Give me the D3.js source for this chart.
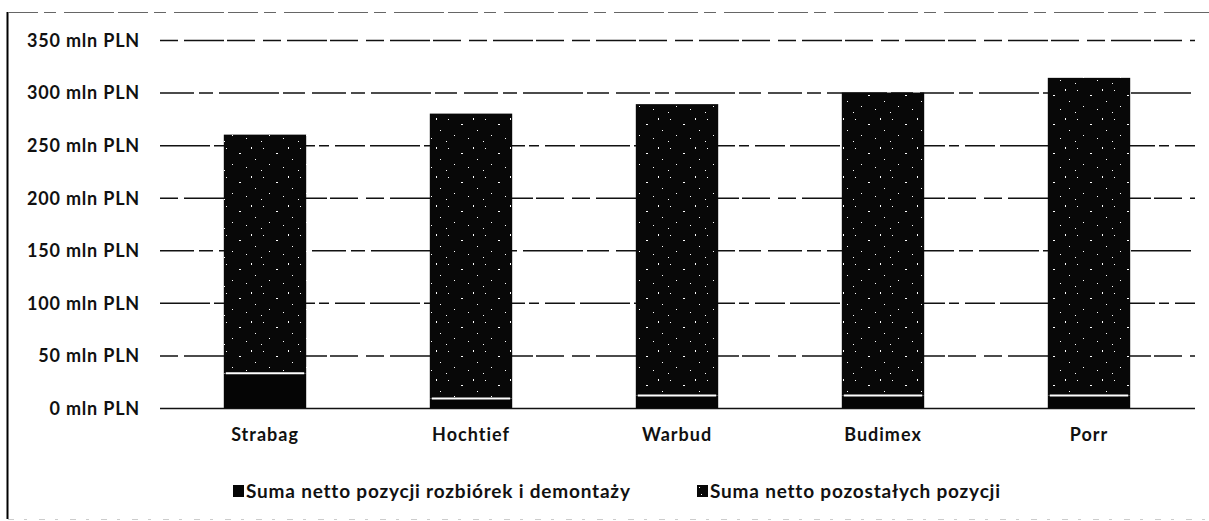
<!DOCTYPE html>
<html>
<head>
<meta charset="utf-8">
<script src="https://cdn.jsdelivr.net/npm/d3@7/dist/d3.min.js"></script>
<style>
  html, body { margin: 0; padding: 0; background: #fff; }
  svg { display: block; }
  text { font-family: Lato, "Open Sans", sans-serif; fill: #111; }
</style>
</head>
<body>
<svg id="chart" width="1209" height="521"></svg>
<script>
// ---- data ----
const categories = ["Strabag", "Hochtief", "Warbud", "Budimex", "Porr"];
const demolition = [33, 9, 12, 12, 12];        // Suma netto pozycji rozbiórek i demontaży
const other = [227, 271, 277, 288, 302];        // Suma netto pozostałych pozycji
const seriesNames = ["Suma netto pozycji rozbiórek i demontaży", "Suma netto pozostałych pozycji"];
const yTicks = [0, 50, 100, 150, 200, 250, 300, 350];
const yTickLabels = ["0 mln PLN", "50 mln PLN", "100 mln PLN", "150 mln PLN", "200 mln PLN", "250 mln PLN", "300 mln PLN", "350 mln PLN"];

const rows = categories.map((c, i) => ({ cat: c, demolition: demolition[i], other: other[i] }));
const stack = d3.stack().keys(["demolition", "other"])(rows);

const svg = d3.select("#chart");

// sparse speckle pattern for the "other" series (scan-like texture)
const defs = svg.append("defs");
const pat = defs.append("pattern").attr("id", "speckle").attr("patternUnits", "userSpaceOnUse")
  .attr("width", 37).attr("height", 29);
pat.append("rect").attr("width", 37).attr("height", 29).attr("fill", "#080808");
[[4,3,1,1],[17,8,2,1],[29,2,1,2],[10,19,1,1],[24,22,1,1],[33,14,1,1],[2,25,1,1]].forEach(s => {
  pat.append("rect").attr("x", s[0]).attr("y", s[1]).attr("width", s[2]).attr("height", s[3]).attr("fill", "#fff");
});

const x = d3.scaleBand().domain(categories).range([162, 1192]).paddingInner(0.6).paddingOuter(0.3);
const y = d3.scaleLinear().domain([0, 350]).range([408, 40]);

// frame
svg.append("line").attr("x1", 7.5).attr("x2", 7.5).attr("y1", 12).attr("y2", 519).attr("stroke", "#000").attr("stroke-width", 2);
svg.append("line").attr("x1", 8).attr("x2", 1209).attr("y1", 12.5).attr("y2", 12.5)
  .attr("stroke", "#666").attr("stroke-width", 1.2).attr("stroke-dasharray", "30,6,12,8,50,4");
svg.append("line").attr("x1", 8).attr("x2", 1209).attr("y1", 519.5).attr("y2", 519.5)
  .attr("stroke", "#ccc").attr("stroke-width", 1).attr("stroke-dasharray", "6,10,3,12");

// y axis (gridlines + labels)
const yAxis = d3.axisLeft(y).tickValues(yTicks)
  .tickSize(-(1195 - 160))
  .tickFormat((d, i) => yTickLabels[i]);
const ga = svg.append("g").attr("transform", "translate(160,0)").call(yAxis);
ga.select(".domain").remove();
ga.selectAll(".tick line")
  .attr("stroke", "#111").attr("stroke-width", 1.5)
  .attr("stroke-dasharray", (d, i) => i === 0 ? null : ["34,5,14,6,60,4,22,7", "18,6,40,3,28,8", "50,4,10,6,30,5"][i % 3]);
ga.selectAll(".tick text")
  .attr("x", -20).attr("dy", "0.35em")
  .style("font-size", "18px").style("font-weight", "700").style("letter-spacing", "0.8px")
  .style("font-family", "Lato, sans-serif").attr("fill", "#111");

// bars
const fills = ["#050505", "url(#speckle)"];
svg.append("g").selectAll("g").data(stack).join("g")
  .attr("fill", (d, i) => fills[i])
  .selectAll("rect").data(d => d).join("rect")
  .attr("x", d => x(d.data.cat))
  .attr("width", x.bandwidth())
  .attr("y", d => y(d[1]))
  .attr("height", d => y(d[0]) - y(d[1]));

// white separator between segments
svg.append("g").selectAll("line").data(stack[0]).join("line")
  .attr("x1", d => x(d.data.cat) + 2).attr("x2", d => x(d.data.cat) + x.bandwidth() - 2)
  .attr("y1", d => y(d[1])).attr("y2", d => y(d[1]))
  .attr("stroke", "#fff").attr("stroke-width", 2);

// x axis labels
const xAxis = d3.axisBottom(x).tickSize(0).tickPadding(0);
const gx = svg.append("g").attr("transform", "translate(0,428)").call(xAxis);
gx.select(".domain").remove();
gx.selectAll(".tick text").attr("dy", "0.71em")
  .style("font-size", "18px").style("font-weight", "700").style("letter-spacing", "1px")
  .style("font-family", "Lato, sans-serif").attr("fill", "#111");

// legend
const legendX = [233, 697];
const lg = svg.append("g").selectAll("g").data(seriesNames).join("g")
  .attr("transform", (d, i) => `translate(${legendX[i]},491)`);
lg.append("rect").attr("x", 0).attr("y", -6).attr("width", 11).attr("height", 12)
  .attr("fill", (d, i) => i === 0 ? "#050505" : "url(#speckle)");
lg.append("text").attr("x", 13).attr("dy", "0.35em").text(d => d)
  .style("font-size", "19px").style("font-weight", "700").style("letter-spacing", "0.8px").attr("fill", "#111");
</script>
</body>
</html>
